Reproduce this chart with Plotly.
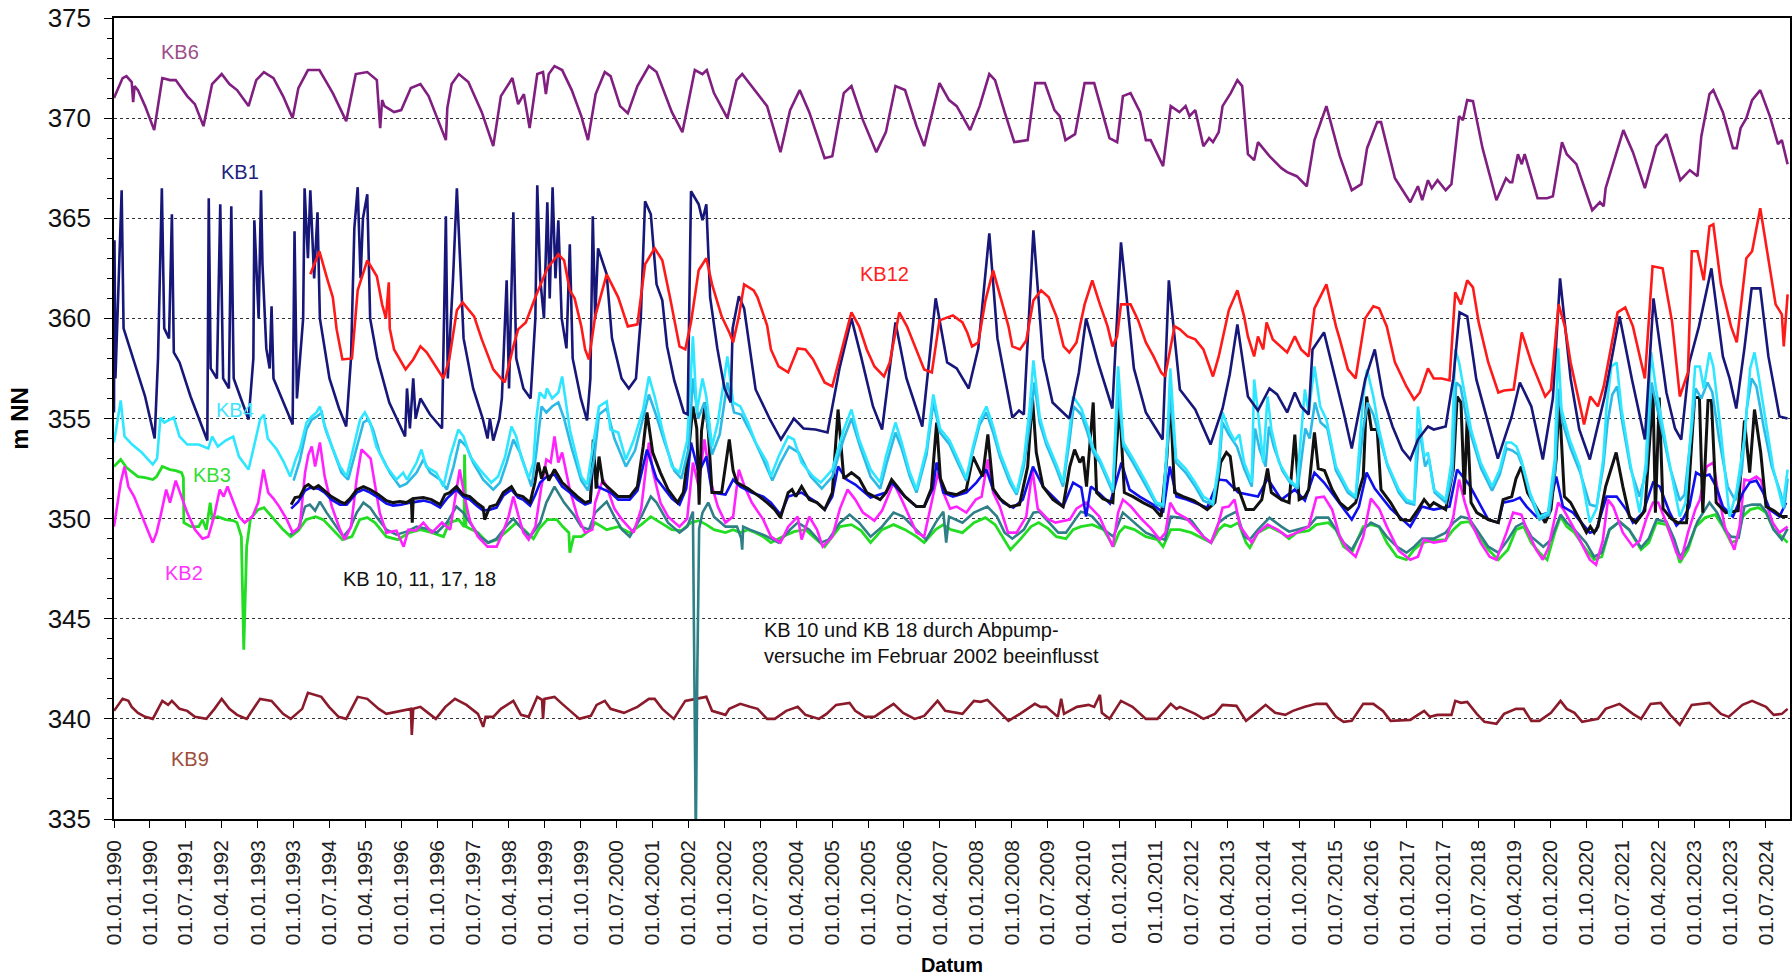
import plotly.graph_objects as go
from datetime import datetime, timedelta

# ---------------- data (decimal year, m NN) ----------------
KB6 = [(1990.00,371.0),(1990.18,372.0),(1990.26,372.1),(1990.37,371.8),(1990.40,370.8),(1990.43,371.6),(1990.50,371.4),(1990.65,370.6),(1990.84,369.4),
(1991.01,372.0),(1991.17,371.9),(1991.29,371.9),(1991.53,371.1),(1991.69,370.7),(1991.87,369.6),
(1992.05,371.7),(1992.25,372.2),(1992.41,371.7),(1992.57,371.4),(1992.81,370.6),
(1992.97,371.9),(1993.13,372.3),(1993.33,372.0),(1993.53,371.1),(1993.73,370.0),
(1993.85,371.5),(1994.05,372.4),(1994.29,372.4),(1994.57,371.25),(1994.85,369.85),
(1995.05,372.2),(1995.29,372.3),(1995.49,371.9),(1995.56,369.5),(1995.60,370.9),(1995.65,370.6),(1995.85,370.3),(1996.00,370.4),
(1996.20,371.5),(1996.40,371.7),(1996.57,371.1),(1996.80,369.7),(1996.93,368.9),(1996.96,370.5),
(1997.05,371.7),(1997.20,372.2),(1997.40,371.8),(1997.68,370.3),(1997.92,368.6),
(1998.08,371.1),(1998.32,372.0),(1998.44,370.7),(1998.56,371.2),(1998.68,369.5),
(1998.84,372.2),(1998.96,372.3),(1999.02,371.2),(1999.08,372.2),(1999.20,372.6),(1999.36,372.4),(1999.56,371.4),(1999.76,370.1),(1999.90,368.9),
(2000.06,371.2),(2000.25,372.3),(2000.37,372.1),(2000.57,370.6),(2000.73,370.25),(2000.93,371.6),
(2001.17,372.6),(2001.33,372.3),(2001.65,370.3),(2001.87,369.3),
(2002.13,372.4),(2002.29,372.2),(2002.38,372.4),(2002.53,371.25),(2002.81,370.0),
(2003.00,371.9),(2003.12,372.2),(2003.32,371.6),(2003.64,370.6),(2003.92,368.3),
(2004.12,370.4),(2004.32,371.4),(2004.52,370.3),(2004.84,368.0),(2005.00,368.1),
(2005.24,371.25),(2005.40,371.6),(2005.64,369.9),(2005.92,368.3),
(2006.12,369.3),(2006.32,371.6),(2006.52,371.4),(2006.76,369.6),(2006.92,368.6),
(2007.24,371.75),(2007.44,370.9),(2007.60,370.6),(2007.88,369.4),
(2008.08,370.6),(2008.28,372.2),(2008.40,371.9),(2008.60,370.3),(2008.80,368.8),(2009.08,368.9),
(2009.24,371.75),(2009.44,371.75),(2009.64,370.4),(2009.75,370.1),(2009.87,368.9),
(2010.07,369.2),(2010.27,371.75),(2010.47,371.75),(2010.79,369.0),(2010.95,368.8),
(2011.07,371.1),(2011.23,371.25),(2011.43,370.3),(2011.55,368.9),(2011.65,368.9),(2011.91,367.6),
(2012.07,370.6),(2012.25,370.3),(2012.38,370.6),(2012.46,370.1),(2012.58,370.4),(2012.75,368.6),(2012.87,369.0),(2012.95,368.8),
(2013.07,369.3),(2013.15,370.6),(2013.32,371.25),(2013.46,371.9),(2013.56,371.6),(2013.68,368.2),(2013.81,367.9),(2013.89,368.8),
(2014.13,368.1),(2014.38,367.5),(2014.50,367.3),(2014.70,367.1),(2014.91,366.6),
(2015.07,368.9),(2015.32,370.6),(2015.60,368.1),(2015.85,366.4),
(2016.05,366.7),(2016.17,368.5),(2016.38,369.8),(2016.46,369.8),(2016.75,367.0),(2017.07,365.8),
(2017.23,366.6),(2017.32,365.9),(2017.44,366.9),(2017.52,366.5),(2017.64,366.9),(2017.81,366.4),(2017.93,366.7),
(2018.09,370.1),(2018.17,369.9),(2018.26,370.9),(2018.38,370.85),(2018.58,368.5),(2018.87,365.9),
(2019.07,367.0),(2019.15,366.8),(2019.20,366.8),(2019.32,368.2),(2019.40,367.7),(2019.46,368.2),(2019.73,366.0),(2019.93,366.0),(2020.05,366.1),
(2020.24,368.8),(2020.34,368.2),(2020.54,367.7),(2020.87,365.4),(2021.03,365.8),(2021.11,365.6),(2021.15,366.5),
(2021.52,369.4),(2021.72,368.3),(2021.97,366.5),
(2022.21,368.6),(2022.42,369.2),(2022.71,366.9),(2022.91,367.4),(2023.07,367.1),
(2023.15,369.1),(2023.32,371.2),(2023.40,371.4),(2023.60,370.3),(2023.81,368.5),(2023.89,368.5),(2023.97,369.5),
(2024.09,370.0),(2024.21,370.9),(2024.38,371.4),(2024.58,370.1),(2024.75,368.7),(2024.83,368.9),(2024.95,367.7)]

KB1 = [(1990.00,355.3),(1990.01,363.9),(1990.03,357.0),(1990.10,362.0),(1990.16,366.4),(1990.20,359.5),(1990.42,357.8),(1990.65,356.1),(1990.85,354.0),
(1990.92,358.0),(1991.00,366.5),(1991.05,359.5),(1991.15,359.0),(1991.21,365.2),(1991.25,358.3),(1991.37,357.8),(1991.60,356.1),(1991.85,354.45),(1991.95,353.9),
(1991.98,366.0),(1992.02,357.5),(1992.15,357.0),(1992.22,365.7),(1992.28,357.0),(1992.40,356.5),(1992.45,365.6),(1992.50,357.0),(1992.65,356.0),(1992.81,354.95),
(1992.91,358.0),(1992.93,364.9),(1993.02,360.0),(1993.07,366.4),(1993.10,362.7),(1993.18,358.5),(1993.25,357.5),(1993.29,360.6),(1993.33,357.0),(1993.50,356.0),(1993.73,354.7),
(1993.77,364.35),(1993.82,356.0),(1993.95,360.0),(1993.98,366.5),(1994.05,363.0),(1994.10,366.4),(1994.18,362.0),(1994.25,365.3),(1994.30,360.0),(1994.50,357.0),(1994.70,355.5),(1994.85,354.6),
(1994.95,358.0),(1995.02,364.5),(1995.09,366.55),(1995.15,362.0),(1995.20,365.0),(1995.29,366.2),(1995.35,360.0),(1995.50,358.0),(1995.75,355.8),(1996.08,354.1),
(1996.12,356.5),(1996.18,354.5),(1996.25,357.0),(1996.30,355.0),(1996.40,356.0),(1996.60,355.2),(1996.85,354.5),(1996.93,365.1),(1996.97,357.0),
(1997.08,362.0),(1997.16,366.5),(1997.22,363.0),(1997.30,359.0),(1997.50,356.5),(1997.70,355.0),(1997.80,354.0),(1997.85,355.0),(1997.92,353.9),(1998.05,355.0),
(1998.10,356.0),(1998.20,361.9),(1998.25,356.5),(1998.34,365.3),(1998.40,358.0),(1998.55,356.5),(1998.70,356.0),(1998.80,360.0),(1998.84,366.65),(1998.90,362.0),
(1998.98,360.0),(1999.05,365.8),(1999.10,361.0),(1999.16,366.55),(1999.22,362.0),(1999.28,364.9),(1999.35,360.0),(1999.45,358.5),(1999.52,363.7),(1999.58,358.0),(1999.75,356.0),(1999.88,354.9),
(1999.95,357.0),(2000.00,365.1),(2000.05,360.0),(2000.11,363.5),(2000.29,362.2),(2000.40,359.0),(2000.60,357.0),(2000.75,356.5),(2000.90,357.0),
(2001.00,360.0),(2001.09,365.85),(2001.21,365.2),(2001.33,361.7),(2001.45,360.9),(2001.55,358.6),(2001.70,356.9),(2001.90,355.3),(2001.98,355.2),
(2002.05,366.35),(2002.21,365.7),(2002.29,364.9),(2002.37,365.7),(2002.45,361.05),(2002.60,358.5),(2002.75,356.5),(2002.88,355.8),(2002.92,359.5),(2003.05,361.1),(2003.16,360.5),
(2003.40,356.45),(2003.70,354.95),(2003.93,353.95),(2004.20,355.0),(2004.40,354.5),(2004.65,354.45),(2004.90,354.3),
(2005.15,357.5),(2005.40,360.0),(2005.60,358.1),(2005.85,355.6),(2006.04,354.45),(2006.32,359.8),(2006.55,357.0),(2006.88,354.6),
(2007.16,361.0),(2007.40,357.8),(2007.60,357.5),(2007.85,356.5),(2008.05,358.5),(2008.28,364.25),(2008.45,359.0),(2008.76,355.05),(2008.90,355.4),(2009.00,355.2),
(2009.20,364.4),(2009.40,358.0),(2009.60,355.8),(2009.95,355.0),(2010.15,357.3),(2010.30,360.0),(2010.55,357.8),(2010.85,355.5),(2011.03,363.8),
(2011.30,357.5),(2011.55,355.3),(2011.90,353.95),(2012.03,361.9),(2012.26,356.45),(2012.58,355.45),(2012.75,354.5),(2012.90,353.7),
(2013.15,355.5),(2013.30,357.2),(2013.46,359.7),(2013.68,356.1),(2013.89,355.4),(2014.13,356.5),(2014.29,356.2),(2014.50,355.3),(2014.66,356.3),(2014.79,355.6),(2014.95,355.2),
(2015.03,358.45),(2015.27,359.3),(2015.52,356.95),(2015.68,355.3),(2015.85,353.5),(2016.13,356.95),(2016.33,358.45),(2016.50,356.1),(2016.70,354.6),(2016.90,353.45),(2017.07,352.95),
(2017.23,353.95),(2017.44,354.6),(2017.56,354.45),(2017.81,354.6),(2017.97,357.0),(2018.10,360.3),(2018.26,360.1),(2018.45,356.95),(2018.70,354.8),(2018.90,353.0),
(2019.19,355.1),(2019.36,356.8),(2019.60,355.6),(2019.84,352.95),(2020.05,356.0),(2020.20,362.0),(2020.42,357.0),(2020.60,354.45),(2020.82,352.95),
(2021.13,356.1),(2021.44,360.1),(2021.70,356.95),(2021.97,353.95),(2022.15,361.0),(2022.42,356.3),(2022.60,354.5),(2022.73,353.95),(2022.90,357.8),
(2023.10,359.6),(2023.36,362.5),(2023.60,358.1),(2023.74,357.0),(2023.88,355.5),(2024.05,358.5),(2024.20,361.5),(2024.38,361.5),(2024.55,358.1),(2024.78,355.1),(2024.95,355.0)]

KB12 = [(1994.10,362.2),(1994.29,363.35),(1994.45,362.0),(1994.57,361.05),(1994.65,359.45),(1994.77,357.95),(1994.97,358.0),
(1995.09,361.4),(1995.29,362.9),(1995.49,362.1),(1995.60,360.7),(1995.68,360.0),(1995.74,361.8),(1995.76,359.5),(1995.85,358.45),(1996.09,357.45),(1996.25,357.95),(1996.40,358.6),(1996.53,358.3),(1996.80,357.3),(1996.88,357.0),
(1997.00,357.95),(1997.16,360.4),(1997.28,360.8),(1997.52,360.1),(1997.68,358.95),(1997.92,357.45),(1998.08,357.0),(1998.16,356.8),(1998.34,358.6),(1998.44,359.45),(1998.60,359.8),(1998.80,361.05),
(1999.05,362.5),(1999.28,363.2),(1999.40,362.9),(1999.52,361.4),(1999.62,361.0),(1999.76,359.6),(1999.84,358.45),(1999.92,357.95),(2000.05,360.1),(2000.29,362.2),(2000.53,361.05),(2000.73,359.6),(2000.93,359.7),
(2001.09,362.7),(2001.29,363.5),(2001.45,362.9),(2001.61,361.05),(2001.81,358.6),(2001.93,358.45),
(2002.05,359.8),(2002.21,362.4),(2002.37,363.0),(2002.49,361.7),(2002.69,360.1),(2002.85,359.3),(2002.93,358.8),
(2003.05,360.1),(2003.16,361.7),(2003.36,361.4),(2003.44,361.05),(2003.64,359.65),(2003.72,358.45),(2003.88,357.6),(2004.08,357.3),(2004.28,358.5),(2004.44,358.45),(2004.60,357.95),(2004.84,356.8),(2005.00,356.6),(2005.16,358.1),
(2005.40,360.3),(2005.56,359.6),(2005.72,358.45),(2005.88,357.6),(2006.08,357.1),(2006.20,357.8),(2006.40,360.3),(2006.56,359.6),(2006.76,358.45),(2006.92,357.45),(2007.08,357.3),
(2007.24,359.9),(2007.52,360.15),(2007.72,359.8),(2007.82,359.3),(2007.92,358.6),(2008.05,358.8),(2008.20,360.9),(2008.36,362.4),(2008.52,361.05),(2008.68,359.6),(2008.76,358.6),(2008.92,358.45),(2009.05,358.9),
(2009.20,360.9),(2009.36,361.4),(2009.52,361.05),(2009.68,360.1),(2009.83,358.6),(2009.95,358.3),(2010.10,358.8),(2010.27,360.7),(2010.43,361.9),(2010.59,360.7),(2010.75,359.6),(2010.85,358.6),(2010.95,359.1),
(2011.03,360.7),(2011.23,360.7),(2011.39,359.9),(2011.55,358.8),(2011.71,358.1),(2011.87,357.3),(2011.95,357.1),(2012.15,359.6),(2012.26,359.45),(2012.42,359.1),(2012.58,358.95),(2012.75,358.45),(2012.95,357.1),
(2013.07,358.1),(2013.28,360.4),(2013.46,361.4),(2013.60,360.1),(2013.68,359.1),(2013.81,358.1),(2013.89,359.1),(2014.00,358.45),(2014.07,359.8),(2014.20,358.95),(2014.50,358.3),(2014.66,359.1),(2014.79,358.45),(2014.95,358.1),
(2015.07,360.5),(2015.32,361.7),(2015.52,359.6),(2015.60,358.95),(2015.77,357.45),(2015.93,357.0),(2016.13,360.0),(2016.30,360.6),(2016.42,360.5),(2016.58,359.6),(2016.75,357.8),(2016.99,356.6),(2017.15,355.95),(2017.27,356.3),(2017.44,357.5),(2017.56,357.0),(2017.73,357.0),(2017.89,356.9),
(2018.01,361.3),(2018.13,360.7),(2018.26,361.9),(2018.38,361.55),(2018.50,359.8),(2018.70,357.8),(2018.91,356.3),(2019.03,356.4),(2019.23,356.45),(2019.40,359.3),(2019.60,357.8),(2019.89,356.1),(2020.01,356.45),
(2020.17,360.7),(2020.30,359.6),(2020.42,357.8),(2020.70,354.7),(2020.83,356.1),(2020.99,355.6),(2021.11,356.6),(2021.40,360.3),(2021.56,360.55),(2021.72,359.6),(2021.97,357.0),
(2022.13,362.6),(2022.34,362.5),(2022.54,359.8),(2022.70,356.1),(2022.87,357.3),(2022.95,363.35),(2023.07,363.35),(2023.20,361.9),(2023.32,364.6),(2023.40,364.7),(2023.56,361.7),(2023.77,359.6),(2023.89,358.8),
(2024.09,363.0),(2024.21,363.35),(2024.38,365.5),(2024.58,362.4),(2024.70,360.7),(2024.83,360.2),(2024.87,358.6),(2024.95,361.2)]

KB4 = [(1990.00,353.8),(1990.14,355.9),(1990.22,354.1),(1990.38,353.7),(1990.58,353.3),(1990.81,352.7),(1990.90,353.0),(1990.97,355.05),(1991.05,354.8),(1991.25,355.05),(1991.37,354.1),(1991.53,353.7),(1991.77,353.7),(1991.97,353.5),(1992.05,354.1),(1992.17,353.6),(1992.33,353.9),(1992.49,354.1),(1992.61,353.1),(1992.81,352.45),(1992.97,354.1),(1993.05,354.95),(1993.13,355.2),(1993.21,354.0),(1993.40,353.45),(1993.55,352.8),(1993.68,352.1),(1993.80,353.0),(1993.88,353.45),(1994.02,354.8),(1994.13,355.1),(1994.23,355.3),(1994.30,355.6),(1994.38,354.8),(1994.55,353.6),(1994.72,352.6),(1994.86,352.1),(1995.00,353.5),(1995.14,354.95),(1995.24,355.3),(1995.35,354.8),(1995.48,353.6),(1995.69,352.6),(1995.90,351.95),(1996.04,352.3),(1996.12,351.95),(1996.32,352.8),(1996.42,353.45),(1996.52,352.6),(1996.73,352.3),(1996.88,351.6),(1997.02,353.1),(1997.19,354.45),(1997.30,354.1),(1997.44,353.1),(1997.64,352.45),(1997.88,351.8),(1998.02,352.1),(1998.17,353.1),(1998.30,354.6),(1998.40,354.1),(1998.50,353.1),(1998.66,352.0),(1998.76,352.8),(1998.82,355.0),(1998.89,356.3),(1999.00,356.0),(1999.04,356.5),(1999.15,356.0),(1999.28,356.3),(1999.36,357.1),(1999.52,354.45),(1999.76,352.1),(1999.88,351.7),
(2000.00,353.5),(2000.13,355.6),(2000.29,355.85),(2000.37,354.45),(2000.53,354.3),(2000.69,352.95),(2000.85,353.9),(2001.05,355.45),(2001.17,357.1),(2001.29,356.1),(2001.45,354.45),(2001.65,352.6),(2001.81,352.3),(2001.97,353.9),(2002.09,359.1),(2002.17,355.3),(2002.29,357.0),(2002.37,356.1),(2002.49,353.6),(2002.61,354.8),(2002.81,358.1),(2002.93,355.8),(2003.08,355.6),(2003.24,354.8),(2003.40,353.8),(2003.64,352.8),(2003.72,352.1),(2003.88,353.1),(2004.08,354.1),(2004.20,353.95),(2004.36,352.8),(2004.60,352.1),(2004.76,351.8),(2005.00,352.45),(2005.24,354.45),(2005.40,355.45),(2005.56,353.95),(2005.80,352.45),(2006.00,351.8),(2006.12,353.1),(2006.32,354.8),
(2006.45,353.8),(2006.62,352.3),(2006.76,351.45),(2006.97,353.5),(2007.11,356.2),(2007.25,354.5),(2007.45,353.9),(2007.62,353.0),(2007.80,352.0),(2007.94,353.6),(2008.08,354.9),(2008.22,355.6),(2008.36,354.6),(2008.50,353.3),(2008.71,352.0),(2008.85,351.3),(2009.00,352.9),(2009.12,355.5),(2009.20,357.9),(2009.33,355.1),(2009.47,353.9),(2009.68,352.7),(2009.82,351.8),(2009.96,354.5),(2010.03,356.1),(2010.20,355.5),(2010.33,354.6),(2010.45,353.5),(2010.59,352.95),(2010.86,351.45),(2010.97,357.6),(2011.08,353.8),(2011.28,353.0),(2011.56,351.8),(2011.77,350.8),(2011.91,350.7),(2012.00,354.0),(2012.06,357.5),(2012.18,353.0),(2012.38,352.5),
(2012.58,351.8),(2012.75,351.1),(2012.95,350.8),(2013.07,352.8),(2013.15,355.3),(2013.28,354.45),(2013.40,353.9),(2013.50,354.2),(2013.60,352.8),(2013.76,351.8),(2013.81,356.95),(2013.89,355.3),(2014.00,352.8),(2014.09,356.1),(2014.17,354.45),(2014.33,352.8),(2014.54,351.95),(2014.70,351.6),(2014.87,356.45),(2014.95,355.3),(2015.07,357.6),(2015.19,355.6),(2015.32,354.95),(2015.52,352.6),(2015.77,351.45),(2015.93,351.1),(2016.09,356.1),(2016.17,357.45),(2016.30,356.1),(2016.42,354.45),(2016.58,352.8),(2016.83,351.45),(2016.99,350.95),(2017.15,350.8),(2017.19,353.6),(2017.23,355.6),(2017.36,353.1),(2017.44,353.3),(2017.56,351.45),(2017.81,350.95),(2017.93,352.8),(2018.01,358.45),(2018.09,357.8),(2018.21,356.1),(2018.34,354.45),(2018.54,352.8),(2018.78,351.6),
(2018.94,352.45),(2019.08,353.8),(2019.18,353.8),(2019.29,353.6),(2019.39,352.95),(2019.57,351.3),(2019.77,350.1),(2019.95,350.3),(2020.09,353.0),(2020.16,358.5),(2020.23,355.45),(2020.40,353.95),(2020.61,352.6),(2020.82,349.8),(2020.96,350.5),(2021.10,353.0),(2021.17,355.6),(2021.27,357.6),(2021.38,357.8),(2021.48,355.5),(2021.66,352.8),(2021.86,350.3),(2021.99,352.8),(2022.10,358.3),(2022.20,356.5),(2022.31,355.0),(2022.48,352.8),(2022.70,350.1),(2022.82,350.8),(2022.95,355.0),(2023.02,357.6),(2023.12,357.6),(2023.20,356.5),(2023.32,358.3),(2023.40,357.6),(2023.55,354.5),(2023.74,350.1),(2023.88,351.3),(2024.05,354.0),(2024.17,357.5),(2024.26,358.3),(2024.34,357.2),(2024.48,355.0),(2024.65,352.5),(2024.85,350.6),(2024.95,352.45)]

KB17 = [(1993.75,351.9),(1993.88,352.9),(1994.02,354.45),(1994.13,354.95),(1994.24,355.1),(1994.34,355.3),(1994.41,354.5),(1994.58,353.4),(1994.75,352.3),(1994.89,351.95),(1995.07,353.5),(1995.21,354.8),(1995.31,354.95),(1995.41,354.45),(1995.55,353.3),(1995.76,352.3),(1995.97,351.6),(1996.11,351.75),(1996.32,352.3),(1996.46,352.95),(1996.60,352.3),(1996.81,351.95),(1996.95,351.45),(1997.09,352.6),(1997.22,353.95),(1997.36,353.6),(1997.50,352.8),(1997.71,351.95),(1997.92,351.45),(1998.06,351.8),(1998.20,352.8),(1998.34,353.95),(1998.48,353.3),(1998.62,352.3),(1998.72,351.6),(1998.82,353.3),(1998.93,355.6),(1999.03,355.3),(1999.15,355.6),(1999.28,355.8),(1999.40,355.0),(1999.55,353.6),(1999.76,351.9),(1999.90,351.4),
(2000.03,353.0),(2000.13,355.2),(2000.29,355.5),(2000.45,354.0),(2000.69,352.6),(2000.88,353.4),(2001.05,355.0),(2001.17,356.2),(2001.33,355.1),(2001.50,353.8),(2001.70,352.4),(2001.85,352.0),(2002.00,353.5),(2002.09,357.0),(2002.20,355.0),(2002.33,355.8),(2002.49,353.2),(2002.65,354.2),(2002.81,356.8),(2002.95,355.3),(2003.10,355.2),(2003.30,354.3),(2003.55,353.0),(2003.75,351.9),(2003.92,352.8),(2004.10,353.6),(2004.30,353.3),(2004.55,352.1),(2004.78,351.5),(2005.00,352.1),(2005.24,354.0),(2005.40,355.0),(2005.58,353.6),(2005.80,352.1),(2006.00,351.5),(2006.14,352.8),(2006.32,354.3),(2006.45,353.5),(2006.62,352.1),(2006.76,351.3),(2006.97,353.2),(2007.11,355.8),(2007.25,354.3),(2007.45,353.7),(2007.62,352.8),(2007.80,351.9),(2007.94,353.4),(2008.08,354.7),(2008.22,355.3),(2008.36,354.3),(2008.50,353.1),(2008.71,351.8),(2008.85,351.2),(2009.00,352.6),(2009.14,355.0),(2009.22,356.8),(2009.33,354.8),(2009.47,353.7),(2009.68,352.5),(2009.82,351.6),(2009.96,354.0),(2010.04,355.6),(2010.20,355.2),(2010.33,354.3),(2010.45,353.3),(2010.59,352.8),(2010.86,351.3),(2010.97,356.5),(2011.08,353.6),(2011.28,352.8),(2011.56,351.6),(2011.77,350.7),(2011.91,350.6),(2012.00,353.6),(2012.06,356.3),(2012.18,352.8),(2012.38,352.3),(2012.58,351.6),(2012.75,350.9),(2012.95,350.7),(2013.07,352.4),(2013.15,354.8),(2013.28,354.2),(2013.45,353.6),(2013.60,352.5),(2013.76,351.6),(2013.83,354.5),(2013.92,353.5),(2014.05,352.6),(2014.12,354.6),(2014.22,353.6),(2014.40,352.4),(2014.56,351.8),(2014.72,351.5),(2014.88,354.5),(2014.97,354.0),(2015.08,355.8),(2015.20,354.8),(2015.34,354.5),(2015.52,352.4),(2015.77,351.3),(2015.93,351.0),(2016.09,354.5),(2016.18,355.8),(2016.30,355.2),(2016.44,354.0),(2016.60,352.6),(2016.83,351.3),(2016.99,350.8),(2017.15,350.7),(2017.22,353.0),(2017.26,354.5),(2017.38,352.6),(2017.46,353.0),(2017.58,351.3),(2017.81,350.8),(2017.95,352.2),(2018.03,356.8),(2018.12,356.6),(2018.23,355.2),(2018.36,354.0),(2018.55,352.5),(2018.78,351.4),(2018.94,352.2),(2019.08,353.5),(2019.20,353.4),(2019.32,353.2),(2019.42,352.6),(2019.58,351.1),(2019.77,349.95),(2019.97,350.2),(2020.10,352.5),(2020.17,356.5),(2020.25,354.8),(2020.42,353.5),(2020.62,352.3),(2020.82,350.7),(2020.96,350.6),(2021.10,352.6),(2021.19,354.8),(2021.29,356.2),(2021.39,356.6),(2021.50,354.8),(2021.67,352.5),(2021.86,351.1),(2022.00,352.4),(2022.11,356.8),(2022.22,355.6),(2022.33,354.3),(2022.50,352.5),(2022.70,350.9),(2022.80,351.2),(2022.95,354.5),(2023.03,356.5),(2023.15,356.0),(2023.28,356.8),(2023.38,356.3),(2023.52,354.0),(2023.70,351.6),(2023.86,350.9),(2024.00,352.5),(2024.10,355.5),(2024.20,357.0),(2024.30,356.6),(2024.45,354.6),(2024.62,352.6),(2024.80,351.3),(2024.88,350.5),(2024.95,352.0)]

KB3 = [(1990.00,352.6),(1990.14,352.95),(1990.26,352.55),(1990.50,352.1),(1990.65,352.05),(1990.81,351.95),(1990.89,352.1),(1991.01,352.6),(1991.17,352.45),(1991.29,352.4),(1991.41,352.3),(1991.45,352.05),(1991.46,349.8),(1991.61,349.6),(1991.77,349.6),(1991.85,349.95),(1991.93,349.45),(1992.01,350.8),(1992.05,350.0),(1992.17,350.1),(1992.33,349.95),(1992.49,349.9),(1992.57,349.8),(1992.66,349.1),(1992.71,343.45),(1992.77,348.6),(1992.85,350.0),(1993.01,350.45),(1993.13,350.55),(1993.29,350.1),(1993.53,349.45),(1993.69,349.1),(1993.85,349.4),(1994.01,349.95),(1994.21,350.1),(1994.37,349.95),(1994.57,349.45),(1994.77,348.95),(1994.97,349.1),(1995.13,349.95),(1995.29,350.05),(1995.45,349.8),(1995.69,349.1),(1995.93,348.95),(1996.17,349.3),(1996.40,349.45),(1996.64,349.3),(1996.88,349.1),(1997.00,349.8),(1997.20,349.95),(1997.31,349.6),(1997.32,353.2),(1997.35,349.6),(1997.60,349.3),(1997.80,348.8),(1998.00,348.95),(1998.24,349.45),(1998.40,349.8),(1998.56,349.45),(1998.76,349.0),(1998.88,349.5),(1999.05,349.95),(1999.25,349.95),(1999.37,349.6),(1999.50,349.3),(1999.52,348.3),(1999.60,349.1),(1999.76,349.1),(1999.96,349.45),
(2000.05,349.8),(2000.29,349.45),(2000.53,349.6),(2000.77,349.3),(2001.01,349.7),(2001.21,350.1),(2001.41,349.8),(2001.65,349.45),(2001.85,349.4),(2002.05,349.8),(2002.21,349.9),(2002.37,349.7),(2002.53,349.45),(2002.77,349.3),(2002.93,349.45),(2003.08,349.3),(2003.24,349.45),(2003.40,349.3),(2003.56,349.1),(2003.72,348.8),(2003.96,349.1),(2004.20,349.35),(2004.44,349.45),(2004.68,348.95),(2004.84,348.6),(2005.00,349.1),(2005.16,349.6),(2005.40,349.7),(2005.60,349.4),(2005.80,348.8),(2006.04,349.45),(2006.28,349.7),(2006.52,349.45),(2006.76,349.1),(2006.92,348.8),(2007.16,349.45),(2007.32,349.7),(2007.48,349.45),(2007.72,349.3),(2007.96,349.8),(2008.20,350.05),(2008.40,349.7),(2008.60,348.95),(2008.72,348.45),(2008.92,348.95),(2009.15,349.6),(2009.31,349.8),(2009.51,349.5),(2009.68,349.1),(2009.88,349.0),(2010.03,349.45),(2010.19,349.6),(2010.43,349.7),(2010.67,349.45),(2010.87,348.6),(2010.99,349.3),(2011.11,349.6),(2011.31,349.45),(2011.55,349.1),(2011.79,348.95),(2011.91,348.6),(2012.07,349.45),
(2012.26,349.45),(2012.50,349.3),(2012.75,349.0),(2012.91,348.8),(2013.07,349.45),(2013.19,349.7),(2013.32,349.6),(2013.48,349.8),(2013.64,348.8),(2013.72,348.55),(2013.89,349.3),(2014.13,349.6),(2014.38,349.3),(2014.54,349.0),(2014.70,349.3),(2014.95,349.4),(2015.11,349.7),(2015.36,349.8),(2015.52,349.45),(2015.68,348.6),(2015.85,348.3),(2016.09,349.6),(2016.25,349.7),(2016.42,349.6),(2016.58,348.8),(2016.79,348.1),(2016.99,347.95),(2017.15,348.45),(2017.32,348.8),(2017.56,348.9),(2017.81,348.95),(2017.97,349.45),(2018.13,349.8),(2018.30,349.85),(2018.46,349.3),(2018.70,348.45),(2018.91,347.95),(2019.11,348.45),(2019.28,349.45),(2019.44,349.6),(2019.60,348.8),(2019.77,348.3),(2019.93,347.95),(2020.09,349.3),(2020.21,350.1),(2020.34,349.6),(2020.50,349.3),(2020.74,348.45),(2020.91,347.95),(2021.07,348.1),(2021.23,349.45),(2021.44,349.85),(2021.64,349.45),(2021.89,348.45),(2022.05,348.8),(2022.21,349.8),(2022.42,349.7),(2022.58,348.8),(2022.70,347.8),(2022.87,348.45),(2023.03,349.6),(2023.23,350.05),(2023.44,350.2),(2023.60,349.6),(2023.77,348.8),(2023.89,348.9),(2024.01,350.1),(2024.17,350.45),(2024.34,350.55),(2024.50,350.3),(2024.66,349.45),(2024.83,349.1),(2024.95,348.8)]

KB2 = [(1990.00,349.6),(1990.14,351.8),(1990.22,352.6),(1990.30,351.6),(1990.42,351.1),(1990.58,350.1),(1990.70,349.45),(1990.81,348.8),(1990.89,349.3),(1990.97,350.1),(1991.09,351.45),(1991.17,350.8),(1991.29,351.9),(1991.41,351.1),(1991.53,350.3),(1991.69,349.45),(1991.85,349.0),(1991.97,349.1),(1992.09,350.1),(1992.21,351.45),(1992.29,351.1),(1992.37,351.6),(1992.49,350.8),(1992.61,350.1),(1992.73,349.8),(1992.89,350.1),(1993.01,350.8),(1993.12,352.45),(1993.22,351.3),(1993.33,351.0),(1993.45,350.6),(1993.61,349.95),(1993.73,349.3),(1993.88,349.6),(1993.99,352.3),(1994.06,353.2),(1994.13,353.6),(1994.20,352.6),(1994.30,353.8),(1994.40,352.1),(1994.55,350.6),(1994.72,349.45),(1994.82,348.95),(1994.95,349.6),(1995.07,352.0),(1995.17,353.45),(1995.28,353.2),(1995.36,353.0),(1995.45,351.7),(1995.55,350.3),(1995.69,349.3),(1995.90,349.4),(1996.05,348.6),(1996.15,349.45),(1996.30,349.4),(1996.46,349.8),(1996.64,349.3),(1996.85,349.8),(1997.02,349.45),(1997.12,350.95),(1997.22,352.45),(1997.32,351.1),(1997.43,349.9),(1997.60,349.1),(1997.80,348.6),(1997.99,348.6),(1998.12,349.3),(1998.24,350.1),(1998.34,351.1),(1998.44,350.2),(1998.55,349.3),(1998.66,348.95),(1998.80,349.6),(1998.92,351.5),(1999.03,352.95),(1999.12,352.8),(1999.20,354.1),(1999.28,352.8),(1999.36,353.3),(1999.52,351.45),(1999.68,350.1),(1999.84,349.3),(1999.99,349.45),
(2000.05,350.8),(2000.21,351.95),(2000.29,351.6),(2000.45,350.5),(2000.61,349.95),(2000.85,349.3),(2001.01,350.5),(2001.13,352.8),(2001.17,353.8),(2001.25,352.4),(2001.41,350.8),(2001.57,350.1),(2001.81,349.6),(2001.97,350.0),(2002.09,352.8),(2002.21,351.6),(2002.33,353.95),(2002.45,351.95),(2002.61,350.6),(2002.77,349.8),(2002.93,350.1),(2003.05,352.45),(2003.17,351.6),(2003.32,350.8),(2003.56,349.95),(2003.72,349.1),(2003.92,348.8),(2004.08,349.6),(2004.28,350.1),(2004.36,348.95),(2004.52,350.1),(2004.68,349.45),(2004.80,348.6),(2005.00,349.1),(2005.16,350.5),(2005.32,351.45),(2005.48,350.95),(2005.64,350.3),(2005.88,349.9),(2006.04,350.4),(2006.28,351.8),(2006.45,350.95),(2006.76,349.3),(2006.92,349.1),(2007.10,351.0),(2007.21,352.3),(2007.32,351.3),(2007.46,350.5),(2007.60,350.6),(2007.80,350.3),(2008.00,350.95),(2008.12,351.1),(2008.25,352.95),(2008.36,351.3),(2008.50,350.6),(2008.67,349.3),(2008.85,349.3),(2009.05,350.1),(2009.18,352.45),(2009.29,350.5),(2009.49,350.0),(2009.66,349.8),(2009.96,349.95),(2010.10,350.5),(2010.30,350.8),(2010.58,350.1),(2010.86,348.6),(2010.97,350.3),(2011.07,350.95),(2011.24,350.6),(2011.45,350.0),(2011.66,349.5),(2011.84,348.95),(2011.96,349.3),(2012.06,350.8),(2012.18,350.3),(2012.40,350.0),(2012.75,349.1),(2012.91,348.8),(2013.07,349.8),(2013.15,350.55),(2013.28,350.6),(2013.40,350.95),(2013.52,349.6),(2013.76,348.8),(2013.89,349.3),(2014.09,349.7),(2014.30,349.45),(2014.50,349.1),(2014.70,349.3),(2014.95,349.6),(2015.11,351.05),(2015.27,351.1),(2015.44,350.45),(2015.60,349.1),(2015.77,348.45),(2015.93,348.1),(2016.09,349.1),(2016.25,351.0),(2016.42,350.5),(2016.58,349.6),(2016.83,348.4),(2017.07,347.95),(2017.23,348.1),(2017.36,348.95),(2017.56,348.8),(2017.81,348.9),(2017.97,350.1),(2018.09,351.95),(2018.21,350.8),(2018.34,349.8),(2018.54,348.8),(2018.73,348.1),(2018.87,347.95),(2019.08,349.3),(2019.22,350.3),(2019.39,350.2),(2019.50,349.5),(2019.70,348.45),(2019.84,347.95),(2019.95,348.5),(2020.09,350.1),(2020.16,350.8),(2020.26,350.5),(2020.47,349.6),(2020.68,348.6),(2020.82,347.95),(2020.95,347.7),(2021.09,348.9),(2021.20,350.95),(2021.31,350.6),(2021.51,349.3),(2021.72,348.6),(2021.86,348.9),(2022.00,350.0),(2022.14,350.8),(2022.25,350.8),(2022.42,349.8),(2022.63,348.3),(2022.73,347.95),(2022.87,349.3),(2023.03,350.5),(2023.12,350.95),(2023.26,352.6),(2023.40,352.8),(2023.50,351.3),(2023.64,349.6),(2023.84,348.45),(2023.95,349.6),(2024.05,351.95),(2024.15,351.9),(2024.30,352.1),(2024.40,351.9),(2024.50,350.8),(2024.64,349.8),(2024.78,349.3),(2024.95,349.6)]

KB10 = [(1993.70,350.7),(1993.78,351.05),(1993.88,351.1),(1993.99,351.6),(1994.06,351.7),(1994.17,351.5),(1994.27,351.65),(1994.37,351.45),(1994.54,351.1),(1994.72,350.85),(1994.82,350.75),(1994.93,351.0),(1995.07,351.45),(1995.21,351.6),(1995.35,351.45),(1995.52,351.2),(1995.69,350.9),(1995.83,350.8),(1995.97,350.85),(1996.11,350.8),(1996.21,350.95),(1996.23,349.8),(1996.25,351.0),(1996.46,351.05),(1996.63,350.95),(1996.81,350.7),(1996.91,351.2),(1997.01,351.3),(1997.15,351.6),(1997.29,351.2),(1997.43,351.1),(1997.57,350.8),(1997.71,350.55),(1997.74,349.95),(1997.85,350.6),(1997.99,350.7),(1998.13,351.3),(1998.30,351.6),(1998.40,351.2),(1998.54,351.1),(1998.69,350.8),(1998.79,351.8),(1998.86,352.8),(1998.93,352.0),(1999.00,352.6),(1999.08,351.9),(1999.20,352.45),(1999.36,351.8),(1999.52,351.45),(1999.68,351.1),(1999.84,350.8),(1999.95,350.9),
(2000.01,353.95),(2000.07,351.5),(2000.13,353.1),(2000.21,351.8),(2000.37,351.45),(2000.53,351.1),(2000.77,351.1),(2000.93,351.6),(2001.05,353.6),(2001.13,355.3),(2001.25,353.3),(2001.41,352.3),(2001.57,351.45),(2001.77,350.8),(2001.89,351.3),(2002.01,353.6),(2002.09,355.6),(2002.17,354.5),(2002.22,350.7),(2002.27,354.4),(2002.35,355.8),(2002.41,354.4),(2002.49,351.3),(2002.69,351.3),(2002.85,353.95),(2002.93,352.4),(2003.01,351.8),(2003.24,351.5),(2003.48,351.1),(2003.64,350.8),(2003.80,350.45),(2003.92,350.05),(2004.08,351.3),(2004.16,351.45),(2004.24,351.1),(2004.36,351.6),(2004.52,350.95),(2004.68,350.8),(2004.84,350.45),(2005.00,351.3),(2005.12,355.45),(2005.24,352.0),(2005.40,352.3),(2005.56,352.0),(2005.72,351.3),(2005.88,351.1),(2006.00,350.95),(2006.12,351.3),(2006.24,351.95),(2006.36,351.6),(2006.52,351.1),(2006.76,350.6),(2006.92,350.6),(2007.07,351.5),(2007.18,354.8),(2007.26,352.0),(2007.38,351.3),(2007.60,351.2),(2007.80,351.45),(2007.94,353.1),(2008.04,352.6),(2008.14,352.1),(2008.25,354.2),(2008.36,351.5),(2008.50,351.0),(2008.71,350.6),(2008.91,350.7),(2009.08,352.6),(2009.18,356.05),(2009.26,353.3),(2009.40,351.6),(2009.61,350.95),(2009.82,350.6),(2009.96,352.6),(2010.06,353.45),(2010.17,352.8),(2010.24,353.1),(2010.31,351.6),(2010.45,355.8),(2010.52,351.3),(2010.65,351.0),(2010.86,350.8),(2011.00,355.8),(2011.10,351.3),(2011.28,351.1),(2011.49,350.8),(2011.70,350.55),(2011.87,350.1),(2011.99,353.1),(2012.06,356.05),(2012.15,351.3),(2012.33,351.1),(2012.55,350.9),(2012.83,350.45),(2012.99,350.8),(2013.11,352.8),(2013.23,353.3),(2013.31,353.1),(2013.40,351.45),(2013.48,351.5),(2013.64,350.45),(2013.80,350.45),(2013.97,350.95),(2014.09,352.5),(2014.17,351.3),(2014.38,350.95),(2014.54,350.8),(2014.66,354.2),(2014.75,350.95),(2014.87,351.1),(2014.95,351.45),(2015.07,354.3),(2015.15,352.5),(2015.28,352.4),(2015.44,351.45),(2015.60,350.8),(2015.77,350.45),(2015.93,350.8),(2016.09,352.1),(2016.16,356.1),(2016.26,354.45),(2016.38,354.45),(2016.46,351.45),(2016.66,350.8),(2016.87,349.95),(2017.07,349.9),(2017.23,350.45),(2017.36,350.95),(2017.48,350.6),(2017.56,350.8),(2017.81,350.45),(2017.97,352.45),(2018.05,356.1),(2018.13,355.8),(2018.20,351.2),(2018.26,355.1),(2018.34,350.8),(2018.46,350.3),(2018.70,349.95),(2018.91,349.8),(2019.01,350.95),(2019.19,351.1),(2019.28,352.0),(2019.39,352.6),(2019.52,351.3),(2019.89,349.8),(2020.01,350.45),(2020.12,353.0),(2020.18,356.1),(2020.29,351.1),(2020.42,350.8),(2020.58,350.1),(2020.75,349.3),(2020.83,349.6),(2020.91,349.3),(2020.99,349.6),(2021.15,351.6),(2021.37,353.3),(2021.51,351.6),(2021.65,350.1),(2021.78,349.8),(2021.97,350.4),(2022.14,356.3),(2022.19,350.3),(2022.27,356.05),(2022.35,350.5),(2022.52,350.0),(2022.65,349.8),(2022.84,349.8),(2023.01,356.05),(2023.11,356.05),(2023.18,350.3),(2023.29,355.9),(2023.36,355.9),(2023.46,350.8),(2023.66,350.3),(2023.92,350.4),(2024.05,354.9),(2024.16,352.3),(2024.26,355.45),(2024.39,353.3),(2024.50,350.6),(2024.66,350.4),(2024.83,350.1),(2024.95,350.1)]

KB11 = [(1993.70,350.5),(1993.85,350.85),(1993.99,351.4),(1994.10,351.55),(1994.27,351.5),(1994.40,351.3),(1994.54,350.95),(1994.72,350.7),(1994.86,350.7),(1995.07,351.3),(1995.21,351.45),(1995.35,351.3),(1995.52,351.05),(1995.69,350.75),(1995.83,350.65),(1996.00,350.7),(1996.20,350.8),(1996.46,350.9),(1996.63,350.8),(1996.81,350.55),(1996.95,351.0),(1997.15,351.45),(1997.29,351.1),(1997.43,350.95),(1997.57,350.65),(1997.71,350.4),(1997.85,350.45),(1997.99,350.55),(1998.13,351.15),(1998.30,351.45),(1998.44,351.05),(1998.54,350.95),(1998.69,350.65),(1998.80,351.2),(1998.90,351.8),(1999.04,352.1),(1999.20,352.2),(1999.36,351.6),(1999.52,351.3),(1999.68,350.95),(1999.84,350.7),(1999.95,350.8),
(2000.01,353.1),(2000.10,351.6),(2000.37,351.3),(2000.53,350.95),(2000.77,350.95),(2000.93,351.4),(2001.13,353.45),(2001.33,352.0),(2001.65,351.0),(2001.81,350.7),(2001.95,351.5),(2002.05,353.8),(2002.21,352.3),(2002.37,353.1),(2002.49,351.3),(2002.77,351.2),(2002.93,351.95),(2003.08,351.6),(2003.32,351.3),(2003.56,351.1),(2003.72,350.8),(2003.92,350.2),(2004.08,351.1),(2004.36,351.3),(2004.68,350.8),(2004.84,350.45),(2005.00,351.1),(2005.12,352.6),(2005.30,351.95),(2005.48,351.7),(2005.80,351.05),(2006.12,351.3),(2006.24,351.8),(2006.52,351.1),(2006.76,350.6),(2006.92,350.6),(2007.10,351.5),(2007.18,352.8),(2007.32,351.3),(2007.52,351.1),(2007.80,351.3),(2008.01,351.8),(2008.22,352.45),(2008.36,351.45),(2008.57,350.8),(2008.78,350.55),(2008.98,350.95),(2009.19,352.6),(2009.40,351.6),(2009.68,350.9),(2009.82,350.6),(2010.03,351.8),(2010.20,351.55),(2010.30,350.1),(2010.40,351.6),(2010.58,351.25),(2010.80,350.75),(2011.04,352.8),(2011.21,351.45),(2011.42,351.1),(2011.70,350.7),(2011.91,350.3),(2012.05,352.6),(2012.19,351.1),(2012.40,350.95),(2012.83,350.55),(2013.07,351.95),(2013.23,351.9),(2013.48,351.3),(2013.89,351.1),(2014.09,352.0),(2014.38,350.95),(2014.66,351.45),(2014.87,350.9),(2015.07,352.3),(2015.27,351.8),(2015.52,351.0),(2015.85,349.95),(2016.00,350.6),(2016.16,352.3),(2016.33,351.5),(2016.66,350.5),(2017.07,349.6),(2017.31,350.6),(2017.56,350.45),(2017.89,350.6),(2018.05,352.45),(2018.30,351.7),(2018.70,349.95),(2018.91,349.8),(2019.01,350.8),(2019.22,350.9),(2019.36,351.05),(2019.50,350.6),(2019.70,350.1),(2019.95,350.3),(2020.12,352.1),(2020.26,350.6),(2020.47,350.3),(2020.82,349.3),(2020.95,349.4),(2021.17,351.1),(2021.38,351.1),(2021.58,350.45),(2021.72,349.8),(2021.93,350.3),(2022.14,351.8),(2022.28,351.6),(2022.49,350.3),(2022.63,349.65),(2022.77,350.0),(2022.90,350.6),(2023.04,352.3),(2023.18,352.1),(2023.32,352.2),(2023.46,351.6),(2023.60,350.6),(2023.81,350.1),(2024.02,351.3),(2024.16,351.8),(2024.30,351.9),(2024.44,351.3),(2024.58,350.45),(2024.78,350.1),(2024.92,350.8)]

KB18 = [(1993.68,349.2),(1993.85,349.5),(1993.99,350.6),(1994.09,350.7),(1994.20,350.4),(1994.30,350.85),(1994.44,350.3),(1994.65,349.6),(1994.79,349.1),(1994.93,349.5),(1995.07,350.3),(1995.21,350.8),(1995.35,350.55),(1995.48,350.1),(1995.69,349.45),(1995.90,349.2),(1996.11,349.35),(1996.32,349.6),(1996.53,349.5),(1996.74,349.3),(1996.95,349.8),(1997.15,350.6),(1997.29,350.3),(1997.43,349.8),(1997.64,349.1),(1997.82,348.8),(1997.99,349.0),(1998.20,349.65),(1998.34,350.0),(1998.48,349.6),(1998.69,349.1),(1998.90,349.8),(1999.03,350.8),(1999.20,351.6),(1999.40,350.8),(1999.60,350.2),(1999.76,349.6),(1999.92,349.45),
(2000.05,350.3),(2000.29,350.85),(2000.45,350.1),(2000.61,349.45),(2000.77,349.1),(2001.01,350.1),(2001.21,351.1),(2001.33,350.8),(2001.57,349.8),(2001.81,349.3),(2001.97,349.6),(2002.09,350.35),(2002.12,340.0),(2002.15,334.0),(2002.18,342.0),(2002.22,349.5),(2002.29,350.3),(2002.41,350.8),(2002.53,350.1),(2002.77,349.6),(2003.01,349.6),(2003.10,349.0),(2003.12,348.45),(2003.14,349.6),(2003.28,349.45),(2003.44,349.3),(2003.60,349.15),(2003.88,348.8),(2004.12,349.45),(2004.28,349.8),(2004.52,349.45),(2004.76,348.8),(2004.92,348.95),(2005.16,349.8),(2005.36,350.2),(2005.56,349.8),(2005.80,349.1),(2006.04,349.6),(2006.28,350.3),(2006.48,350.1),(2006.76,349.45),(2006.96,348.95),(2007.16,349.8),(2007.32,350.35),(2007.38,348.8),(2007.44,350.1),(2007.72,349.8),(2007.96,350.3),(2008.24,350.6),(2008.44,350.1),(2008.60,349.3),(2008.76,349.0),(2009.00,349.45),(2009.20,350.3),(2009.32,350.35),(2009.48,349.95),(2009.72,349.3),(2009.88,349.3),(2010.03,349.8),(2010.19,350.35),(2010.27,350.3),(2010.43,350.1),(2010.67,349.45),(2010.87,349.1),(2011.07,350.3),(2011.31,349.8),(2011.55,349.3),(2011.79,349.05),(2011.95,348.95),(2012.07,350.1),
(2012.26,350.05),(2012.50,349.9),(2012.75,349.1),(2012.91,348.8),(2013.07,349.8),(2013.23,350.1),(2013.44,350.35),(2013.60,349.1),(2013.72,348.95),(2013.89,349.45),(2014.13,350.05),(2014.38,349.6),(2014.54,349.35),(2014.70,349.45),(2014.95,349.6),(2015.11,350.05),(2015.36,350.05),(2015.52,349.45),(2015.68,348.8),(2015.85,348.45),(2016.09,349.45),(2016.25,349.8),(2016.42,349.6),(2016.58,349.1),(2016.79,348.6),(2016.99,348.3),(2017.15,348.6),(2017.32,349.0),(2017.56,349.0),(2017.81,349.3),(2017.97,349.8),(2018.13,350.1),(2018.30,350.0),(2018.46,349.45),(2018.70,348.6),(2018.91,348.3),(2019.11,348.95),(2019.28,349.6),(2019.44,349.8),(2019.60,349.1),(2019.85,348.6),(2020.01,348.95),(2020.21,350.2),(2020.34,349.8),(2020.50,349.45),(2020.74,348.8),(2020.91,348.1),(2021.07,348.3),(2021.23,349.45),(2021.44,349.85),(2021.64,349.45),(2021.89,348.55),(2022.05,349.0),(2022.21,349.95),(2022.42,349.85),(2022.58,349.0),(2022.70,348.1),(2022.87,348.6),(2023.07,349.85),(2023.32,350.8),(2023.48,350.3),(2023.64,349.45),(2023.77,349.1),(2023.93,349.05),(2024.05,350.6),(2024.21,350.7),(2024.38,350.7),(2024.50,350.35),(2024.66,349.45),(2024.83,348.95),(2024.95,349.5)]

KB9 = [(1990.00,340.4),(1990.18,341.0),(1990.30,340.9),(1990.37,340.6),(1990.50,340.3),(1990.65,340.1),(1990.81,340.0),
(1991.01,340.9),(1991.13,340.7),(1991.21,340.9),(1991.37,340.5),(1991.53,340.4),(1991.69,340.1),(1991.93,340.0),
(1992.10,340.5),(1992.25,341.0),(1992.41,340.5),(1992.57,340.2),(1992.77,340.0),
(1993.05,341.0),(1993.29,340.9),(1993.53,340.25),(1993.69,340.0),(1993.93,340.5),(1994.05,341.3),(1994.17,341.2),(1994.33,341.1),(1994.49,340.6),(1994.69,340.1),(1994.85,340.0),
(1995.09,341.1),(1995.29,341.0),(1995.53,340.5),(1995.69,340.25),(1996.00,340.4),(1996.20,340.5),(1996.22,339.2),(1996.25,340.5),(1996.40,340.6),(1996.72,340.0),
(1996.92,340.6),(1997.12,341.0),(1997.36,340.7),(1997.60,340.25),(1997.71,339.6),(1997.76,340.1),(1997.92,340.1),
(1998.08,340.5),(1998.34,340.9),(1998.50,340.2),(1998.66,340.1),(1998.84,341.1),(1998.94,340.95),(1998.96,340.0),(1998.99,341.0),(1999.20,341.1),(1999.36,340.75),(1999.52,340.4),(1999.72,340.0),(1999.96,340.15),
(2000.08,340.7),(2000.25,340.9),(2000.37,340.5),(2000.65,340.3),(2000.93,340.6),(2001.17,341.0),(2001.29,341.0),(2001.45,340.5),(2001.69,340.0),
(2001.93,340.9),(2002.17,341.0),(2002.37,341.1),(2002.49,340.4),(2002.77,340.2),(2002.85,340.5),(2003.08,340.75),(2003.28,340.6),(2003.44,340.5),(2003.64,340.0),(2003.80,340.0),
(2004.04,340.4),(2004.28,340.6),(2004.44,340.2),(2004.72,340.0),(2004.88,340.25),(2005.08,340.7),(2005.36,340.8),(2005.48,340.4),(2005.68,340.1),(2005.88,340.1),
(2006.12,340.5),(2006.28,340.75),(2006.48,340.3),(2006.72,340.0),(2006.92,340.15),(2007.20,340.9),(2007.36,340.4),(2007.72,340.25),
(2007.96,340.9),(2008.10,340.85),(2008.24,340.95),(2008.48,340.4),(2008.68,339.9),(2008.92,340.25),(2009.23,340.75),(2009.35,340.6),(2009.47,340.6),(2009.71,340.1),(2009.78,341.0),(2009.84,340.25),
(2010.11,340.6),(2010.35,340.7),(2010.47,340.6),(2010.59,341.2),(2010.63,340.3),(2010.79,340.0),(2011.03,340.9),(2011.27,340.6),(2011.55,340.0),(2011.79,340.0),
(2012.07,340.75),(2012.19,340.5),(2012.26,340.6),(2012.58,340.25),(2012.75,340.0),(2012.99,340.25),(2013.15,340.7),(2013.44,340.65),(2013.64,339.9),(2013.85,340.3),
(2014.05,340.7),(2014.25,340.3),(2014.46,340.2),(2014.62,340.4),(2014.87,340.6),(2015.11,340.75),(2015.32,340.75),(2015.52,340.1),(2015.68,339.85),(2015.85,339.9),
(2016.09,340.75),(2016.30,340.75),(2016.50,340.4),(2016.66,339.9),(2017.07,339.95),(2017.23,340.2),(2017.36,340.4),(2017.48,340.1),(2017.64,340.2),(2017.93,340.2),
(2018.01,340.9),(2018.13,340.8),(2018.26,340.85),(2018.46,340.25),(2018.62,339.85),(2018.87,339.75),(2019.03,340.25),(2019.28,340.5),(2019.44,340.5),(2019.60,339.9),(2019.77,339.9),
(2020.01,340.3),(2020.21,340.9),(2020.34,340.5),(2020.50,340.3),(2020.66,339.85),(2020.99,340.0),(2021.15,340.5),(2021.44,340.75),(2021.72,340.25),(2021.89,340.0),
(2022.09,340.75),(2022.30,340.8),(2022.50,340.2),(2022.70,339.7),(2022.95,340.7),(2023.11,340.75),(2023.32,340.8),(2023.56,340.25),(2023.72,340.1),
(2024.01,340.7),(2024.21,340.9),(2024.50,340.6),(2024.66,340.2),(2024.83,340.25),(2024.95,340.5)]

# x-axis ticks every 9 months: 01.01.1990 ... 01.07.2024
TICK_MONTH_OFFSETS = list(range(0, 415, 9))
TICK_VALS = [f"{1990 + m // 12}-{m % 12 + 1:02d}-01" for m in TICK_MONTH_OFFSETS]
TICK_TEXT = [f"01.{m % 12 + 1:02d}.{1990 + m // 12}" for m in TICK_MONTH_OFFSETS]

# label texts / anchor values (decimal year, value)
LABELS = [
    ("KB6", 1991.38, 373.3, "#9b4f8b"),
    ("KB1", 1992.63, 367.3, "#22227f"),
    ("KB12", 2006.10, 362.2, "#ff2020"),
    ("KB4", 1992.53, 355.4, "#40e4ff"),
    ("KB3", 1992.05, 352.2, "#33dd33"),
    ("KB2", 1991.46, 347.3, "#ff33ff"),
    ("KB 10, 11, 17, 18", 1996.39, 347.0, "#111111"),
    ("KB9", 1991.59, 338.0, "#9c4e3a"),
]
NOTE = ("KB 10 und KB 18 durch Abpump-<br>versuche im Februar 2002 beeinflusst", 2003.53, 343.8)


def to_date(y):
    yr = int(y)
    start = datetime(yr, 1, 1)
    days = (datetime(yr + 1, 1, 1) - start).days
    return start + timedelta(days=(y - yr) * days)


FONT = "Liberation Sans, Arial, sans-serif"

series = [
    ("KB9", KB9, "#8b1a2a", 2.6),
    ("KB6", KB6, "#801f80", 2.6),
    ("KB3", KB3, "#22dd22", 2.8),
    ("KB18", KB18, "#2e7f86", 2.6),
    ("KB2", KB2, "#ff22ff", 2.6),
    ("KB11", KB11, "#1010ee", 2.6),
    ("KB10", KB10, "#111111", 3.0),
    ("KB17", KB17, "#2cb9e6", 2.6),
    ("KB4", KB4, "#2ee6ff", 2.6),
    ("KB1", KB1, "#17177a", 2.6),
    ("KB12", KB12, "#ff1a1a", 2.6),
]

fig = go.Figure()
for name, data, color, w in series:
    fig.add_trace(go.Scatter(
        x=[to_date(t) for t, _ in data],
        y=[v for _, v in data],
        mode="lines", name=name,
        line=dict(color=color, width=w),
        showlegend=False, hoverinfo="x+y+name",
    ))

annotations = []
for text, t, v, col in LABELS:
    annotations.append(dict(x=to_date(t), y=v, xref="x", yref="y", text=text,
                            showarrow=False, font=dict(family=FONT, size=20, color=col)))
annotations.append(dict(x=to_date(NOTE[1]), y=NOTE[2], xref="x", yref="y", text=NOTE[0],
                        showarrow=False, xanchor="left", align="left",
                        font=dict(family=FONT, size=20, color="#111111")))

fig.update_layout(
    width=1792, height=977,
    margin=dict(l=114, r=2, t=18, b=158, autoexpand=False),
    paper_bgcolor="white", plot_bgcolor="white",
    font=dict(family=FONT, color="black"),
    annotations=annotations,
    xaxis=dict(
        type="date", automargin=False,
        range=[datetime(1990, 1, 1), datetime(2025, 1, 1)],
        tickmode="array", tickvals=TICK_VALS, ticktext=TICK_TEXT,
        tickangle=-90, tickfont=dict(family=FONT, size=21, color="#222"),
        ticks="outside", ticklen=7, tickcolor="black", ticklabelstandoff=4,
        showline=True, linecolor="black", linewidth=1.5, mirror=True,
        showgrid=False, zeroline=False,
        title=dict(text="<b>Datum</b>", font=dict(family=FONT, size=20), standoff=14),
    ),
    yaxis=dict(
        range=[335, 375], dtick=5, tick0=335, automargin=False,
        tickfont=dict(family=FONT, size=26, color="#111"),
        ticks="outside", ticklen=8, tickcolor="black", ticklabelstandoff=8,
        minor=dict(dtick=1, ticks="outside", ticklen=5, tickcolor="black", showgrid=False),
        showline=True, linecolor="black", linewidth=1.5, mirror=True,
        showgrid=True, gridcolor="#333", gridwidth=1, griddash="dot",
        zeroline=False,
        title=dict(text="<b>m NN</b>", font=dict(family=FONT, size=24), standoff=12),
    ),
)

# remove the browser's default 8px page margin so the 1792x977 figure fills the window exactly
fig.write_html("out.html", config={"responsive": False, "displayModeBar": False},
               post_script="document.body.style.margin='0';document.body.style.overflow='hidden';")
